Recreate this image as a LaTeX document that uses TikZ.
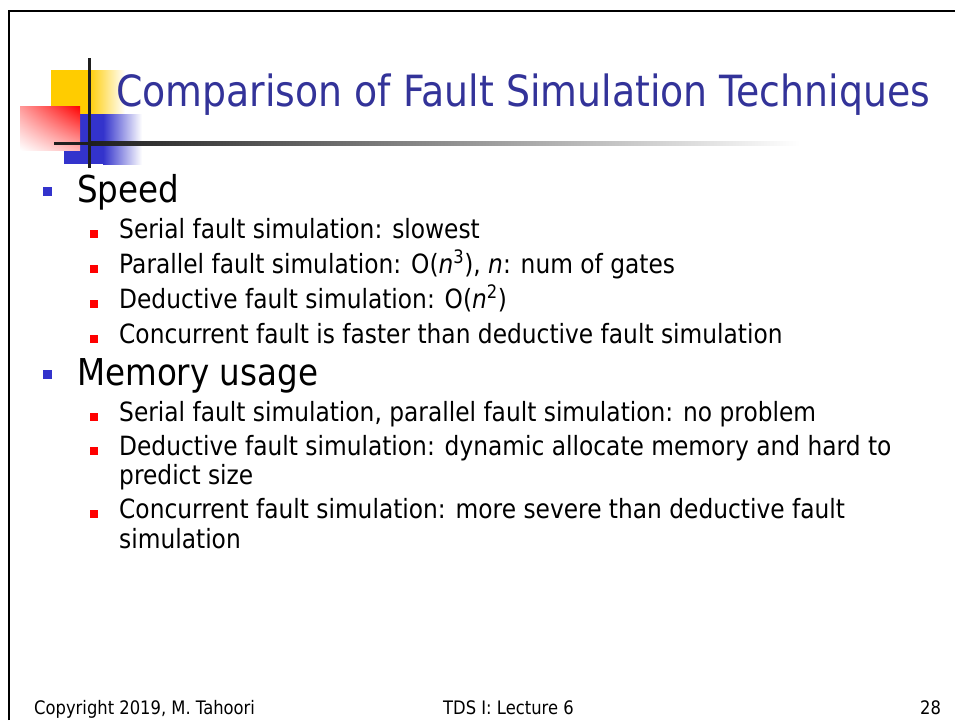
\documentclass[tikz,border=0pt]{standalone}
\usepackage{fontspec}
\setmainfont{DejaVu Sans}[FakeStretch=0.88]
\usetikzlibrary{shadings}
\definecolor{titleblue}{HTML}{333399}
\definecolor{bulletblue}{HTML}{3333CC}
\definecolor{decoyellow}{HTML}{FFCC00}
\begin{document}
\begin{tikzpicture}[x=1pt,y=-1pt]
		\tikzset{txt/.style={anchor=base west, inner sep=0pt},
			lvlone/.style={txt, font=\fontsize{37}{40}\selectfont},
			lvltwo/.style={txt, font=\fontsize{26.5}{29.5}\selectfont},
			foot/.style={anchor=base west, inner sep=0pt, font=\fontsize{18.6}{19}\selectfont},
			bigbul/.style={fill=bulletblue, inner sep=0pt, minimum size=9pt},
			smallbul/.style={fill=red, inner sep=0pt, minimum size=8pt}};

		\useasboundingbox (0,0) rectangle (955,720);
		\fill[white] (0,0) rectangle (955,720);

		% frame
		\draw[line width=2pt] (8.5,720) -- (8.5,10.5) -- (955,10.5);

		% logo squares
		\fill[decoyellow] (51,70) rectangle (88,114);
		\shade[left color=decoyellow, right color=white] (88,70) rectangle (125,114);
		\fill[bulletblue] (64,114) rectangle (103,164);
		\shade[left color=bulletblue, right color=white] (103,114) rectangle (142,164);
		\shade[upper right=red, lower left=white, upper left=red!40, lower right=red!30] (20,106) rectangle (80,150);

		% lines
		\fill[black!88] (54,141.5) rectangle (90,145);
		\shade[left color=black!88, right color=white] (90,141.5) rectangle (800,145);
		\fill[black!88] (87.5,58) rectangle (90.5,168);

		% title
		\node[txt, text=titleblue, font=\fontsize{43}{43}\selectfont] (title) at (116,106) {Comparison of Fault Simulation Techniques};

		% speed
		\node[bigbul] (b1) at (47.5,191.5) {};
		\node[lvlone] (speed) at (77,202) {Speed};
		\node[smallbul] (b11) at (94,234) {};
		\node[lvltwo] (serial) at (119,238) {Serial fault simulation: slowest};
		\node[smallbul] (b12) at (94,269) {};
		\node[lvltwo] (parallel) at (119,273) {Parallel fault simulation: O(\textit{n}\textsuperscript{3}), \textit{n}: num of gates};
		\node[smallbul] (b13) at (94,304) {};
		\node[lvltwo] (deductive) at (119,308) {Deductive fault simulation: O(\textit{n}\textsuperscript{2})};
		\node[smallbul] (b14) at (94,339) {};
		\node[lvltwo] (concurrent) at (119,343) {Concurrent fault is faster than deductive fault simulation};

		% memory
		\node[bigbul] (b2) at (47.5,374.5) {};
		\node[lvlone] (memory) at (77,385) {Memory usage};
		\node[smallbul] (b21) at (94,417) {};
		\node[lvltwo] (serialmem) at (119,421) {Serial fault simulation, parallel fault simulation: no problem};
		\node[smallbul] (b22) at (94,451) {};
		\node[lvltwo] (dedmem) at (119,455) {Deductive fault simulation: dynamic allocate memory and hard to};
		\node[lvltwo] (dedmemb) at (119,484) {predict size};
		\node[smallbul] (b23) at (94,514) {};
		\node[lvltwo] (concmem) at (119,518) {Concurrent fault simulation: more severe than deductive fault};
		\node[lvltwo] (concmemb) at (119,548) {simulation};

		% footer
		\node[foot] (copy) at (34,714) {Copyright 2019, M. Tahoori};
		\node[foot] (lecture) at (443,714) {TDS I: Lecture 6};
		\node[foot] (page) at (920,714) {28};
	\end{tikzpicture}
\end{document}
